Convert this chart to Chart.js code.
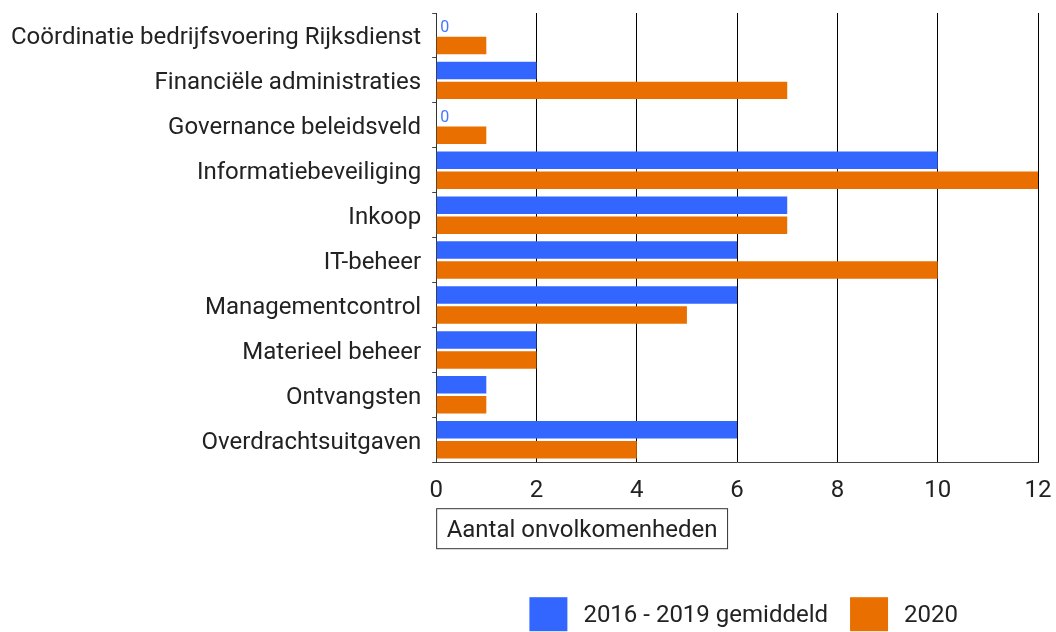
<!DOCTYPE html>
<html>
<head>
<meta charset="utf-8">
<script src="https://cdn.jsdelivr.net/npm/chart.js@4"></script>
<style>
  html, body { margin: 0; padding: 0; background: #fff; }
  #wrap { width: 1056px; height: 632px; position: relative; }
</style>
</head>
<body>
<div id="wrap"><canvas id="c" width="1056" height="632"></canvas></div>
<script>
const categories = [
  "Coördinatie bedrijfsvoering Rijksdienst",
  "Financiële administraties",
  "Governance beleidsveld",
  "Informatiebeveiliging",
  "Inkoop",
  "IT-beheer",
  "Managementcontrol",
  "Materieel beheer",
  "Ontvangsten",
  "Overdrachtsuitgaven"
];
const seriesNames = ["2016 - 2019 gemiddeld", "2020"];
const avg2016_2019 = [0, 2, 0, 10, 7, 6, 6, 2, 1, 6];
const values2020 = [1, 7, 1, 12, 7, 10, 5, 2, 1, 4];
const xTicks = [0, 2, 4, 6, 8, 10, 12];
const axisTitle = "Aantal onvolkomenheden";
const colors = ["#3366FF", "#E86F00"];
const FONT = "Roboto, 'Noto Sans', sans-serif";

const extras = {
  id: 'extras',
  afterDatasetsDraw(chart) {
    const ctx = chart.ctx;
    chart.data.datasets.forEach((ds, di) => {
      const meta = chart.getDatasetMeta(di);
      meta.data.forEach((bar, i) => {
        if (ds.data[i] === 0) {
          ctx.save();
          ctx.fillStyle = '#4477FF';
          ctx.font = "16px " + FONT;
          ctx.textAlign = 'left';
          ctx.textBaseline = 'middle';
          ctx.fillText('0', bar.base + 4, bar.y + 3);
          ctx.restore();
        }
      });
    });
  },
  afterDraw(chart) {
    const ctx = chart.ctx;
    const ca = chart.chartArea;
    ctx.save();
    ctx.font = "24px " + FONT;
    const tw = ctx.measureText(axisTitle).width;
    const bx = ca.left + 0.5, by = ca.bottom + 46.5;
    const bw = tw + 20, bh = 40;
    ctx.strokeStyle = '#333';
    ctx.lineWidth = 1;
    ctx.strokeRect(bx, by, bw, bh);
    ctx.fillStyle = '#222';
    ctx.textBaseline = 'middle';
    ctx.textAlign = 'left';
    ctx.fillText(axisTitle, bx + 10, by + bh / 2 + 2);
    const ly = ca.bottom + 135;
    const items = seriesNames.map((n, i) => ({ n, c: colors[i], w: ctx.measureText(n).width }));
    const boxW = 38, boxH = 34, gapText = 16, gapItem = 22;
    let total = 0;
    items.forEach((it, i) => { total += boxW + gapText + it.w + (i < items.length - 1 ? gapItem : 0); });
    let x = ca.right - 80 - total;
    items.forEach((it) => {
      ctx.fillStyle = it.c;
      ctx.fillRect(x, ly, boxW, boxH);
      ctx.fillStyle = '#222';
      ctx.fillText(it.n, x + boxW + gapText, ly + boxH / 2 + 2);
      x += boxW + gapText + it.w + gapItem;
    });
    ctx.restore();
  }
};

new Chart(document.getElementById('c'), {
  type: 'bar',
  data: {
    labels: categories,
    datasets: [
      { label: seriesNames[0], data: avg2016_2019, backgroundColor: colors[0] },
      { label: seriesNames[1], data: values2020, backgroundColor: colors[1] }
    ]
  },
  options: {
    indexAxis: 'y',
    responsive: false,
    animation: false,
    devicePixelRatio: 1,
    categoryPercentage: 0.89,
    barPercentage: 0.875,
    layout: { padding: { top: 13, left: 0, right: 18, bottom: 113 } },
    plugins: { legend: { display: false }, tooltip: { enabled: false } },
    scales: {
      x: {
        min: 0, max: 12,
        afterBuildTicks: (axis) => { axis.ticks = xTicks.map(v => ({ value: v })); },
        afterFit: (s) => { s.paddingLeft = 0; s.paddingRight = 0; },
        grid: { color: '#000', lineWidth: 1, drawTicks: false },
        border: { display: true, color: '#444' },
        ticks: { color: '#222', font: { family: FONT, size: 24 }, padding: 14 }
      },
      y: {
        afterFit: (s) => { s.paddingTop = 0; s.paddingBottom = 0; },
        grid: { drawOnChartArea: false, drawTicks: true, tickLength: 4, color: '#444' },
        border: { display: true, color: '#333', width: 1 },
        ticks: { color: '#222', font: { family: FONT, size: 24 }, padding: 11, labelOffset: 3 }
      }
    }
  },
  plugins: [extras]
});
</script>
</body>
</html>
